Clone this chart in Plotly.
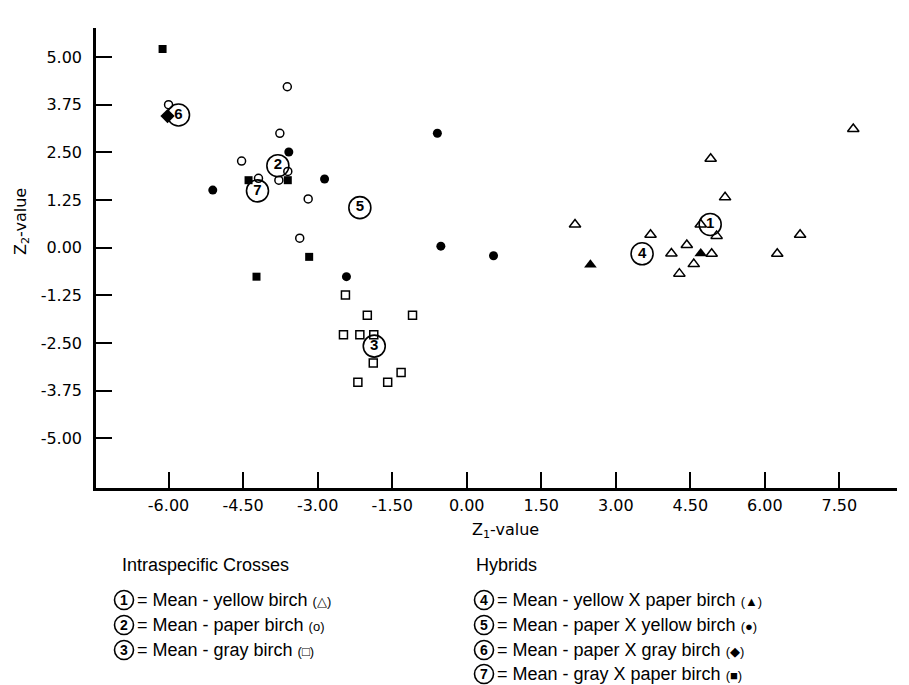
import plotly.graph_objects as go

# ---------------- data ----------------
yellow_x = [7.78, 4.91, 5.20, 2.18, 4.71, 3.70, 5.03, 6.71, 4.43, 4.12, 4.93, 6.25, 4.57, 4.28]
yellow_y = [3.11, 2.33, 1.32, 0.61, 0.61, 0.34, 0.31, 0.34, 0.07, -0.15, -0.16, -0.16, -0.43, -0.68]

paper_x = [-3.61, -6.00, -3.76, -4.53, -3.60, -4.19, -3.78, -3.19, -3.36]
paper_y = [4.22, 3.75, 3.00, 2.27, 2.00, 1.82, 1.77, 1.28, 0.25]

gray_x = [-2.44, -2.00, -1.09, -2.48, -2.15, -1.87, -1.88, -1.32, -2.19, -1.59]
gray_y = [-1.24, -1.77, -1.77, -2.28, -2.28, -2.28, -3.02, -3.27, -3.53, -3.53]

yxp_x = [4.71, 2.49]
yxp_y = [-0.15, -0.45]

pxy_x = [-0.59, -3.58, -2.86, -5.11, -0.52, 0.54, -2.42]
pxy_y = [3.00, 2.51, 1.80, 1.51, 0.04, -0.21, -0.76]

pxg_x = [-6.02]
pxg_y = [3.45]

gxp_x = [-6.12, -4.39, -3.60, -3.17, -4.23]
gxp_y = [5.21, 1.77, 1.77, -0.24, -0.76]

mean_labels = ["1", "2", "3", "4", "5", "6", "7"]
mean_x = [4.90, -3.80, -1.86, 3.53, -2.15, -5.80, -4.21]
mean_y = [0.61, 2.15, -2.58, -0.16, 1.05, 3.48, 1.49]

x_tickvals = [-6.0, -4.5, -3.0, -1.5, 0.0, 1.5, 3.0, 4.5, 6.0, 7.5]
x_ticktext = ["-6.00", "-4.50", "-3.00", "-1.50", "0.00", "1.50", "3.00", "4.50", "6.00", "7.50"]
y_tickvals = [5.0, 3.75, 2.5, 1.25, 0.0, -1.25, -2.5, -3.75, -5.0]
y_ticktext = ["5.00", "3.75", "2.50", "1.25", "0.00", "-1.25", "-2.50", "-3.75", "-5.00"]

legend_left_title = "Intraspecific Crosses"
legend_right_title = "Hybrids"
legend_left = [("1", "= Mean - yellow birch", "\u25b3"),
               ("2", "= Mean - paper birch", "o"),
               ("3", "= Mean - gray birch", "\u25a1")]
legend_right = [("4", "= Mean - yellow X paper birch", "\u25b2"),
                ("5", "= Mean - paper X yellow birch", "\u25cf"),
                ("6", "= Mean - paper X gray birch", "\u25c6"),
                ("7", "= Mean - gray X paper birch", "\u25a0")]

# ---------------- layout geometry (page pixels) ----------------
OFF = 8                      # default page body margin
PAGE_W, PAGE_H = 909, 685
W, H = PAGE_W - OFF, PAGE_H - OFF
PLOT_L, PLOT_R, PLOT_T, PLOT_B = 96, 897, 28, 488   # page coords
L = PLOT_L - OFF
T = PLOT_T - OFF
R = W - (PLOT_R - OFF)
B = H - (PLOT_B - OFF)
PW = PLOT_R - PLOT_L
PH = PLOT_B - PLOT_T


def px(xp):
    return (xp - PLOT_L) / PW


def py(yp):
    return (PLOT_B - yp) / PH


FONT = "DejaVu Sans, Liberation Sans, Arial, sans-serif"
LFONT = "Liberation Sans, Arial, sans-serif"

fig = go.Figure()


def add(xs, ys, symbol, size, lw=1.4):
    fig.add_trace(go.Scatter(
        x=xs, y=ys, mode="markers",
        marker=dict(symbol=symbol, size=size, color="black",
                    line=dict(color="black", width=lw)),
        showlegend=False, hoverinfo="x+y", cliponaxis=False))


add(yellow_x, yellow_y, "triangle-up-open", 10, 1.5)
add(paper_x, paper_y, "circle-open", 8, 1.5)
add(gray_x, gray_y, "square-open", 8, 1.5)
add(yxp_x, yxp_y, "triangle-up", 11, 0)
add(pxy_x, pxy_y, "circle", 9, 0)
add(pxg_x, pxg_y, "diamond", 11, 0)
add(gxp_x, gxp_y, "square", 8, 0)

fig.add_trace(go.Scatter(
    x=mean_x, y=mean_y, mode="markers+text",
    text=["<b>%s</b>" % t for t in mean_labels],
    textposition="middle center",
    textfont=dict(family="Liberation Sans, Arial, sans-serif", size=15, color="black"),
    marker=dict(symbol="circle-open", size=22, color="black",
                line=dict(color="black", width=1.6)),
    showlegend=False, hoverinfo="x+y", cliponaxis=False))

fig.update_layout(
    width=W, height=H,
    margin=dict(l=L, r=R, t=T, b=B, pad=0),
    paper_bgcolor="white", plot_bgcolor="white",
    font=dict(family=FONT, size=16, color="black"),
    showlegend=False,
)

fig.update_xaxes(
    range=[-7.46, 8.66], showgrid=False, zeroline=False,
    showline=True, linecolor="black", linewidth=2.5,
    ticks="inside", ticklen=16, tickwidth=1.5, tickcolor="black",
    tickvals=x_tickvals, ticktext=x_ticktext,
    tickfont=dict(family=FONT, size=16, color="black"),
    ticklabelstandoff=1,
)
fig.update_yaxes(
    range=[-6.30, 5.76], showgrid=False, zeroline=False,
    showline=True, linecolor="black", linewidth=2.5,
    ticks="inside", ticklen=16, tickwidth=1.5, tickcolor="black",
    tickvals=y_tickvals, ticktext=y_ticktext,
    tickfont=dict(family=FONT, size=16, color="black"),
    ticklabelstandoff=8,
)

ann = []
# axis titles
ann.append(dict(x=px(505), y=py(530), xref="paper", yref="paper",
                text="Z<sub>1</sub>-value", showarrow=False,
                font=dict(family=FONT, size=16), xanchor="center", yanchor="middle"))
ann.append(dict(x=px(21), y=py(222), xref="paper", yref="paper",
                text="Z<sub>2</sub>-value", showarrow=False, textangle=-90,
                font=dict(family=FONT, size=16), xanchor="center", yanchor="middle"))

# legend headings
ann.append(dict(x=px(120), y=py(565), xref="paper", yref="paper",
                text=legend_left_title, showarrow=False,
                font=dict(family=LFONT, size=18), xanchor="left", yanchor="middle"))
ann.append(dict(x=px(474), y=py(565), xref="paper", yref="paper",
                text=legend_right_title, showarrow=False,
                font=dict(family=LFONT, size=18), xanchor="left", yanchor="middle"))

shapes = []
rows_y = [600, 625, 650, 674]


def legend_item(cx, cy, num, label, sym):
    shapes.append(dict(type="circle", xref="paper", yref="paper",
                       xsizemode="pixel", ysizemode="pixel",
                       xanchor=px(cx), yanchor=py(cy),
                       x0=-9.5, x1=9.5, y0=-9.5, y1=9.5,
                       line=dict(color="black", width=1.6)))
    ann.append(dict(x=px(cx), y=py(cy), xref="paper", yref="paper",
                    text="<b>%s</b>" % num, showarrow=False,
                    font=dict(family="Liberation Sans, Arial, sans-serif", size=14),
                    xanchor="center", yanchor="middle"))
    ann.append(dict(x=px(cx + 11), y=py(cy), xref="paper", yref="paper",
                    text="%s <span style='font-size:13px'>(%s)</span>" % (label, sym),
                    showarrow=False,
                    font=dict(family=LFONT, size=18),
                    xanchor="left", yanchor="middle"))


for i, (n, lab, s) in enumerate(legend_left):
    legend_item(124, rows_y[i], n, lab, s)
for i, (n, lab, s) in enumerate(legend_right):
    legend_item(484, rows_y[i], n, lab, s)

fig.update_layout(annotations=ann, shapes=shapes)

fig.write_html("out.html")
